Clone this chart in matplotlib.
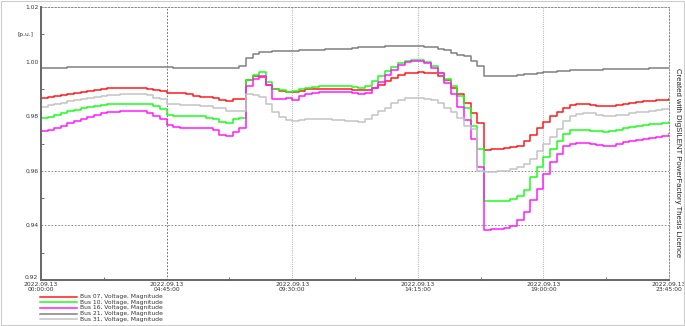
import matplotlib
matplotlib.use('Agg')
import matplotlib.pyplot as plt
import matplotlib.dates as mdates
from matplotlib.lines import Line2D
from matplotlib.patches import Rectangle
import pandas as pd

# 15-minute samples over 2022.09.13
times = pd.date_range('2022-09-13 00:00:00', periods=96, freq='15min')

bus07 = [0.9868, 0.9871, 0.9874, 0.9877, 0.9880, 0.9885, 0.9890, 0.9894, 0.9897, 0.9900,
         0.9902, 0.9903, 0.9904, 0.9904, 0.9904, 0.9903, 0.9900, 0.9896, 0.9892, 0.9886,
         0.9885, 0.9884, 0.9882, 0.9875, 0.9872, 0.9870, 0.9866, 0.9860, 0.9857, 0.9862,
         0.9864, 0.9934, 0.9946, 0.9942, 0.9916, 0.9898, 0.9893, 0.9890, 0.9890, 0.9891,
         0.9898, 0.9900, 0.9901, 0.9901, 0.9901, 0.9900, 0.9899, 0.9897, 0.9895, 0.9897,
         0.9905, 0.9915, 0.9928, 0.9940, 0.9950, 0.9957, 0.9960, 0.9961, 0.9960, 0.9957,
         0.9947, 0.9932, 0.9905, 0.9880, 0.9849, 0.9813, 0.9776, 0.9677, 0.9679, 0.9681,
         0.9683, 0.9686, 0.9691, 0.9710, 0.9730, 0.9756, 0.9778, 0.9800, 0.9816, 0.9831,
         0.9840, 0.9843, 0.9843, 0.9841, 0.9838, 0.9837, 0.9838, 0.9842, 0.9846, 0.9849,
         0.9852, 0.9854, 0.9857, 0.9859, 0.9861, 0.9863]

bus10 = [0.9795, 0.9798, 0.9804, 0.9810, 0.9818, 0.9824, 0.9830, 0.9835, 0.9838, 0.9841,
         0.9843, 0.9845, 0.9846, 0.9846, 0.9846, 0.9846, 0.9843, 0.9837, 0.9828, 0.9805,
         0.9802, 0.9801, 0.9801, 0.9800, 0.9799, 0.9795, 0.9790, 0.9780, 0.9776, 0.9789,
         0.9795, 0.9934, 0.9950, 0.9961, 0.9926, 0.9898, 0.9895, 0.9890, 0.9892, 0.9900,
         0.9905, 0.9908, 0.9909, 0.9910, 0.9910, 0.9910, 0.9909, 0.9908, 0.9905, 0.9912,
         0.9928, 0.9946, 0.9964, 0.9980, 0.9995, 1.0003, 1.0005, 1.0005, 1.0000, 0.9985,
         0.9960, 0.9935, 0.9910, 0.9875, 0.9830, 0.9765, 0.9680, 0.9488, 0.9488, 0.9489,
         0.9490, 0.9495, 0.9507, 0.9531, 0.9576, 0.9614, 0.9650, 0.9680, 0.9710, 0.9734,
         0.9748, 0.9750, 0.9749, 0.9747, 0.9744, 0.9743, 0.9745, 0.9750, 0.9755, 0.9760,
         0.9764, 0.9767, 0.9770, 0.9773, 0.9776, 0.9779]

bus16 = [0.9746, 0.9750, 0.9758, 0.9765, 0.9774, 0.9782, 0.9790, 0.9798, 0.9804, 0.9810,
         0.9814, 0.9817, 0.9819, 0.9819, 0.9819, 0.9818, 0.9812, 0.9800, 0.9789, 0.9766,
         0.9760, 0.9758, 0.9758, 0.9757, 0.9757, 0.9755, 0.9748, 0.9730, 0.9728, 0.9742,
         0.9758, 0.9910, 0.9937, 0.9946, 0.9916, 0.9862, 0.9862, 0.9865, 0.9859, 0.9874,
         0.9880, 0.9886, 0.9888, 0.9889, 0.9889, 0.9889, 0.9888, 0.9886, 0.9880, 0.9884,
         0.9905, 0.9925, 0.9950, 0.9970, 0.9987, 1.0000, 1.0001, 1.0003, 0.9995, 0.9977,
         0.9959, 0.9922, 0.9880, 0.9835, 0.9785, 0.9716, 0.9614, 0.9383, 0.9385, 0.9388,
         0.9391, 0.9397, 0.9419, 0.9449, 0.9492, 0.9534, 0.9589, 0.9632, 0.9662, 0.9690,
         0.9700, 0.9703, 0.9702, 0.9699, 0.9693, 0.9690, 0.9692, 0.9698, 0.9704, 0.9709,
         0.9713, 0.9717, 0.9721, 0.9725, 0.9729, 0.9733]

bus21 = [0.9977, 0.9977, 0.9978, 0.9978, 0.9979, 0.9979, 0.9980, 0.9980, 0.9980, 0.9981,
         0.9981, 0.9981, 0.9981, 0.9981, 0.9981, 0.9980, 0.9980, 0.9980, 0.9979, 0.9979,
         0.9978, 0.9978, 0.9978, 0.9978, 0.9977, 0.9977, 0.9976, 0.9976, 0.9977, 0.9978,
         0.9985, 1.0013, 1.0029, 1.0034, 1.0035, 1.0038, 1.0038, 1.0039, 1.0040, 1.0041,
         1.0042, 1.0043, 1.0044, 1.0045, 1.0046, 1.0047, 1.0048, 1.0050, 1.0052, 1.0053,
         1.0054, 1.0055, 1.0056, 1.0056, 1.0057, 1.0057, 1.0057, 1.0056, 1.0055, 1.0052,
         1.0046, 1.0041, 1.0032, 1.0025, 1.0019, 1.0001, 0.9983, 0.9946, 0.9946, 0.9947,
         0.9948, 0.9949, 0.9950, 0.9953, 0.9956, 0.9958, 0.9961, 0.9963, 0.9965, 0.9967,
         0.9968, 0.9969, 0.9970, 0.9971, 0.9971, 0.9972, 0.9972, 0.9972, 0.9973, 0.9973,
         0.9974, 0.9974, 0.9975, 0.9975, 0.9976, 0.9977]

bus31 = [0.9834, 0.9840, 0.9846, 0.9850, 0.9855, 0.9859, 0.9864, 0.9868, 0.9870, 0.9873,
         0.9876, 0.9878, 0.9880, 0.9880, 0.9880, 0.9880, 0.9876, 0.9868, 0.9862, 0.9845,
         0.9843, 0.9842, 0.9841, 0.9840, 0.9839, 0.9836, 0.9831, 0.9829, 0.9820, 0.9819,
         0.9819, 0.9880, 0.9876, 0.9870, 0.9845, 0.9815, 0.9797, 0.9785, 0.9782, 0.9785,
         0.9788, 0.9789, 0.9789, 0.9788, 0.9787, 0.9785, 0.9783, 0.9781, 0.9779, 0.9788,
         0.9803, 0.9819, 0.9831, 0.9847, 0.9859, 0.9866, 0.9868, 0.9867, 0.9864, 0.9858,
         0.9849, 0.9831, 0.9815, 0.9795, 0.9764, 0.9752, 0.9600, 0.9597, 0.9597, 0.9598,
         0.9600, 0.9605, 0.9613, 0.9625, 0.9643, 0.9674, 0.9698, 0.9722, 0.9752, 0.9782,
         0.9800, 0.9808, 0.9810, 0.9810, 0.9806, 0.9801, 0.9800, 0.9803, 0.9806, 0.9810,
         0.9814, 0.9817, 0.9820, 0.9823, 0.9826, 0.9828]

series = [bus07, bus10, bus16, bus21, bus31]
labels = ['Bus 07, Voltage, Magnitude', 'Bus 10, Voltage, Magnitude',
          'Bus 16, Voltage, Magnitude', 'Bus 21, Voltage, Magnitude',
          'Bus 31, Voltage, Magnitude']
colors = ['#ff1a1a', '#1aff1a', '#ff1aff', '#808080', '#c4c4c4']

y_ticks = [0.92, 0.94, 0.96, 0.98, 1.00, 1.02]
x_ticks = pd.date_range('2022-09-13 00:00:00', periods=6, freq='285min')

fig = plt.figure(figsize=(6.85, 3.26), dpi=100)
ax = fig.add_axes([0.0599, 0.1411, 0.9167, 0.8374])

for vals, col, lab in zip(series, colors, labels):
    ax.step(times, vals, where='post', color=col, lw=1.1, label=lab)

ax.set_xlim(x_ticks[0], x_ticks[-1])
ax.set_ylim(0.92, 1.02)

# grid lines
for yv in [0.94, 0.96]:
    ax.axhline(yv, color='#777777', lw=0.6, ls=(0, (2, 2)), zorder=0)
ax.axvline(x_ticks[1], color='#555555', lw=0.6, ls=(0, (2, 2)), zorder=0)
for xv in x_ticks[2:5]:
    ax.axvline(xv, color='#bbbbbb', lw=0.8, ls=(0, (1, 1)), zorder=0)

for side in ['top', 'right']:
    ax.spines[side].set_linestyle((0, (2, 2)))
    ax.spines[side].set_color('#777777')
    ax.spines[side].set_linewidth(0.6)
for side in ['left', 'bottom']:
    ax.spines[side].set_color('#666666')
    ax.spines[side].set_linewidth(1.4)

ax.set_yticks(y_ticks)
ax.set_yticklabels(['%.2f' % v for v in y_ticks])
ax.get_yticklabels()[0].set_va('bottom')
ax.set_xticks(x_ticks)
ax.xaxis.set_major_formatter(mdates.DateFormatter('%Y.%m.%d\n%H:%M:%S'))
ax.tick_params(axis='both', length=0, labelsize=4.3, colors='#333333', pad=2)
ax.tick_params(axis='x', pad=1.5)
for lbl in ax.get_xticklabels():
    lbl.set_linespacing(0.9)

ax.set_yticks([0.93, 0.95, 0.97, 0.99, 1.01], minor=True)
ax.set_xticks(pd.date_range('2022-09-13 02:22:30', periods=5, freq='285min'), minor=True)
ax.tick_params(which='minor', direction='in', length=2, width=0.6, color='#555555')

ax.text(-0.012, 0.9, '[p.u.]', transform=ax.transAxes, fontsize=4.3,
        color='#333333', ha='right', va='center')

# legend below the axes
for i, (col, lab) in enumerate(zip(colors, labels)):
    yf = 1 - (296.5 + 5.7 * i) / 326
    fig.add_artist(Line2D([40 / 685, 77 / 685], [yf, yf], color=col, lw=1.1))
    fig.text(80 / 685, yf, lab, fontsize=4.3, color='#333333', va='center')

fig.text(677 / 685, 0.5, 'Created with DIgSILENT PowerFactory Thesis Licence',
         rotation=-90, fontsize=5.6, ha='center', va='center', color='#222222',
         family=['Liberation Sans Narrow', 'Liberation Sans', 'DejaVu Sans'])

fig.add_artist(Rectangle((0.002, 0.003), 0.996, 0.994, transform=fig.transFigure,
                         fill=False, edgecolor='#cccccc', lw=0.8))

fig.savefig('out.png', dpi=100)
